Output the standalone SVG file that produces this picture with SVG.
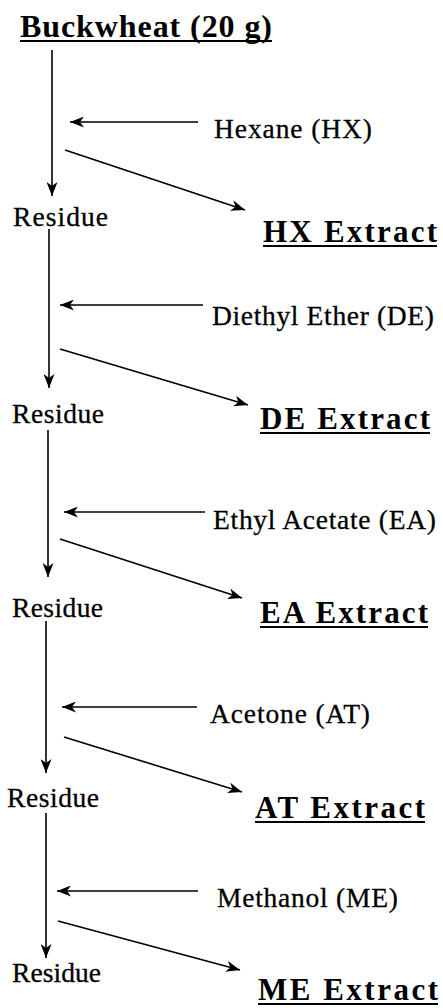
<svg xmlns="http://www.w3.org/2000/svg" width="443" height="1008" viewBox="0 0 443 1008">
<defs>
<marker id="ah" viewBox="0 0 14 11" refX="14" refY="5.5" markerWidth="14" markerHeight="11" markerUnits="userSpaceOnUse" orient="auto">
<path d="M0,0 L14,5.5 L0,11 L4,5.5 Z" fill="#000"/>
</marker>
<style>
.c line{stroke:#000;stroke-width:1.6;marker-end:url(#ah);}
.t{font-family:"Liberation Serif","Times New Roman",serif;fill:#000;}
.n{font-size:27.5px;stroke:#000;stroke-width:0.3;}
.b{font-size:31px;font-weight:bold;}
.u{stroke:#000;stroke-width:2;}
</style>
</defs>
<rect width="443" height="1008" fill="#fff"/>
<g id="title">
<text class="t b" x="20" y="37" style="font-size:32px" textLength="252" lengthAdjust="spacing">Buckwheat (20 g)</text>
<line class="u" x1="20" y1="41" x2="272" y2="41"/>
</g>
<g id="hx-solvent"><text class="t n" x="214" y="138" textLength="158" lengthAdjust="spacing">Hexane (HX)</text></g>
<g id="residue1"><text class="t n" x="13" y="226" textLength="95" lengthAdjust="spacing">Residue</text></g>
<g id="hx-extract"><text class="t b" x="263" y="242" textLength="174" lengthAdjust="spacing">HX Extract</text><line class="u" x1="263" y1="246" x2="437" y2="246"/></g>
<g id="de-solvent"><text class="t n" x="212" y="325" textLength="222" lengthAdjust="spacing">Diethyl Ether (DE)</text></g>
<g id="residue2"><text class="t n" x="12" y="423" textLength="92" lengthAdjust="spacing">Residue</text></g>
<g id="de-extract"><text class="t b" x="260" y="429" textLength="170" lengthAdjust="spacing">DE Extract</text><line class="u" x1="260" y1="433" x2="430" y2="433"/></g>
<g id="ea-solvent"><text class="t n" x="213" y="529" textLength="223" lengthAdjust="spacing">Ethyl Acetate (EA)</text></g>
<g id="residue3"><text class="t n" x="12" y="617" textLength="91" lengthAdjust="spacing">Residue</text></g>
<g id="ea-extract"><text class="t b" x="260" y="623" textLength="168" lengthAdjust="spacing">EA Extract</text><line class="u" x1="260" y1="627" x2="428" y2="627"/></g>
<g id="at-solvent"><text class="t n" x="210" y="723" textLength="160" lengthAdjust="spacing">Acetone (AT)</text></g>
<g id="residue4"><text class="t n" x="7" y="807" textLength="92" lengthAdjust="spacing">Residue</text></g>
<g id="at-extract"><text class="t b" x="255" y="818" textLength="170" lengthAdjust="spacing">AT Extract</text><line class="u" x1="255" y1="822" x2="425" y2="822"/></g>
<g id="me-solvent"><text class="t n" x="217" y="907" textLength="181" lengthAdjust="spacing">Methanol (ME)</text></g>
<g id="residue5"><text class="t n" x="12" y="982" textLength="89" lengthAdjust="spacing">Residue</text></g>
<g id="me-extract"><text class="t b" x="258" y="1000" textLength="180" lengthAdjust="spacing">ME Extract</text><line class="u" x1="258" y1="1004" x2="438" y2="1004"/></g>
<g id="connectors" class="c">
<line x1="52" y1="50" x2="52" y2="196"/>
<line x1="198" y1="122" x2="70" y2="122"/>
<line x1="65" y1="150" x2="245" y2="210"/>
<line x1="49" y1="229" x2="49" y2="388"/>
<line x1="203" y1="305" x2="60" y2="305"/>
<line x1="60" y1="349" x2="248" y2="405"/>
<line x1="48" y1="430" x2="48" y2="577"/>
<line x1="205" y1="512" x2="64" y2="512"/>
<line x1="60" y1="539" x2="242" y2="598"/>
<line x1="46" y1="621" x2="46" y2="773"/>
<line x1="197" y1="707" x2="62" y2="707"/>
<line x1="64" y1="737" x2="242" y2="792"/>
<line x1="46" y1="813" x2="46" y2="958"/>
<line x1="198" y1="891" x2="57" y2="891"/>
<line x1="58" y1="921" x2="240" y2="970"/>
</g>
</svg>
